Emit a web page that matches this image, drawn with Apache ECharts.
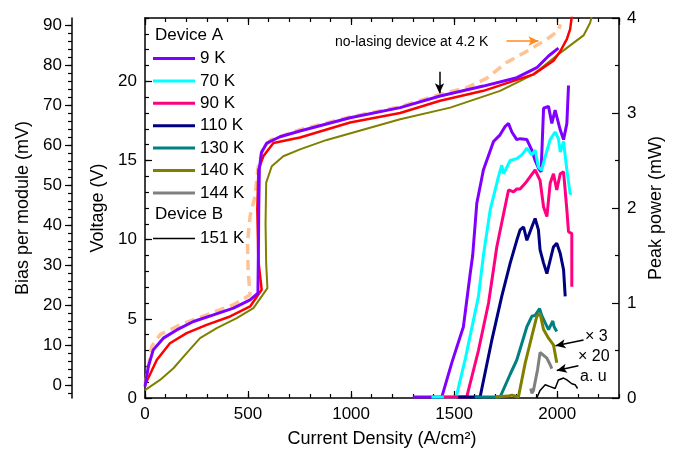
<!DOCTYPE html>
<html>
<head>
<meta charset="utf-8">
<script src="https://cdn.jsdelivr.net/npm/echarts@6/dist/echarts.min.js"></script>
<style>html,body{margin:0;padding:0;background:#fff}#c{width:678px;height:451px}</style>
</head>
<body>
<div id="c"></div>
<script>
// ---- Data (J in A/cm^2, V in volts, P in mW) ----
const biasTicks = [0, 10, 20, 30, 40, 50, 60, 70, 80, 90];
const biasMinorTicks = [-2,0,2,4,6,8,10,12,14,16,18,20,22,24,26,28,30,32,34,36,38,40,42,44,46,48,50,52,54,56,58,60,62,64,66,68,70,72,74,76,78,80,82,84,86,88,90];

const vj9K = [[0,0.72],[16,1.98],[40,3.04],[89,3.78],[154,4.3],[235,4.83],[332,5.25],[429,5.68],[510,6.2],[548,6.63],[550,9],[552,12],[555,14.5],[565,15.5],[591,16.1],[655,16.5],[752,16.86],[995,17.7],[1238,18.34],[1432,19.07],[1642,19.7],[1804,20.23],[1901,20.86],[1958,21.6],[2006,22.1]];
const vjRed = [[0,0.82],[57,2.4],[121,3.46],[202,4.1],[299,4.62],[413,5.15],[510,5.78],[566,6.84],[550,8.7],[545,11.9],[550,14.4],[574,15.27],[623,16.1],[752,16.45],[995,17.4],[1238,18.0],[1432,18.77],[1642,19.4],[1885,20.44],[1982,21.3],[2015,21.9],[2047,22.66],[2063,23.3],[2075,24.5]];
const vj140K = [[0,0.5],[73,1.14],[138,1.88],[202,2.83],[267,3.78],[348,4.41],[445,5.04],[526,5.68],[594,6.94],[588,8.5],[585,11],[588,13.6],[615,14.64],[671,15.27],[752,15.7],[882,16.3],[1238,17.6],[1481,18.34],[1723,19.4],[1885,20.44],[2015,21.8],[2128,22.9],[2160,23.7],[2175,24.5]];
const vjNoLasing = [[0,0.9],[8,1.35],[32,3.25],[73,4.0],[170,4.62],[299,5.25],[429,5.89],[510,6.52],[518,6.63],[501,7.9],[497,9.8],[510,11.5],[534,12.74],[548,14.5],[570,15.7],[610,16.3],[752,16.95],[995,17.75],[1238,18.4],[1432,19.18],[1561,19.6],[1659,20.2],[1756,21.2],[1853,21.9],[1950,22.66],[2006,23.2],[2015,23.6]];

const p9K = [[1300,0.01],[1440,0.01],[1490,0.38],[1545,0.75],[1578,1.31],[1590,1.5],[1610,2.05],[1642,2.4],[1691,2.7],[1723,2.77],[1748,2.86],[1764,2.89],[1780,2.8],[1804,2.72],[1820,2.73],[1853,2.72],[1877,2.61],[1893,2.5],[1909,2.42],[1922,2.38],[1934,3.05],[1958,3.07],[1974,2.89],[1990,3.03],[2015,2.82],[2031,2.72],[2047,2.89],[2055,3.29]];
const p70K = [[1390,0.01],[1510,0.01],[1555,0.42],[1618,1.07],[1642,1.5],[1675,1.98],[1715,2.33],[1731,2.45],[1740,2.36],[1772,2.5],[1804,2.52],[1829,2.56],[1853,2.63],[1877,2.56],[1893,2.61],[1909,2.43],[1925,2.4],[1942,2.54],[1966,2.72],[1990,2.8],[2006,2.73],[2015,2.59],[2031,2.7],[2047,2.4],[2063,2.15],[2071,2.15]];
const p90K = [[1450,0.01],[1561,0.01],[1618,0.5],[1667,1.0],[1707,1.59],[1740,1.94],[1764,2.19],[1788,2.17],[1804,2.2],[1820,2.2],[1845,2.26],[1869,2.33],[1893,2.4],[1917,2.29],[1934,2.01],[1950,1.91],[1966,2.26],[1982,2.36],[1998,2.19],[2015,2.36],[2031,2.38],[2047,1.98],[2055,1.75],[2071,1.73],[2071,1.17]];
const p110K = [[1520,0.01],[1626,0.01],[1683,0.61],[1731,1.07],[1772,1.42],[1804,1.66],[1820,1.77],[1837,1.8],[1853,1.66],[1877,1.8],[1893,1.89],[1909,1.77],[1917,1.56],[1934,1.42],[1950,1.31],[1966,1.45],[1982,1.59],[1998,1.63],[2015,1.52],[2031,1.35],[2039,1.07]];
const p130K = [[1600,0.01],[1723,0.01],[1772,0.25],[1804,0.4],[1853,0.75],[1877,0.86],[1893,0.87],[1915,0.94],[1925,0.87],[1942,0.79],[1958,0.72],[1979,0.81],[1985,0.75],[1998,0.7]];
const p140K = [[1700,0.01],[1760,0.02],[1780,0.03],[1812,0.01],[1845,0.37],[1877,0.65],[1901,0.86],[1917,0.89],[1934,0.72],[1958,0.63],[1982,0.56],[1998,0.37]];
const p144K = [[1872,0.1],[1877,0.05],[1885,0.08],[1905,0.3],[1917,0.48],[1925,0.5],[1950,0.42],[1966,0.35],[1974,0.31]];
const p151K = [[1901,0],[1917,0.08],[1942,0.14],[1966,0.12],[1990,0.1],[2006,0.19],[2031,0.21],[2047,0.19],[2071,0.15],[2087,0.14],[2099,0.1]];

const FONT = 'Liberation Sans, Arial, sans-serif';
const chart = echarts.init(document.getElementById('c'), null, {renderer: 'canvas'});

function line(name, data, color, width, yIdx, extra) {
  return Object.assign({
    type: 'line', name: name, data: data, xAxisIndex: 0, yAxisIndex: yIdx,
    symbol: 'none', showSymbol: false, smooth: false, clip: true, silent: true,
    lineStyle: {color: color, width: width}, itemStyle: {color: color}, z: 3
  }, extra || {});
}
function arrowML(from, to, color) {
  return {
    silent: true, symbol: ['none', 'arrow'], symbolSize: [7, 10],
    label: {show: false}, lineStyle: {color: color, width: 1.5, type: 'solid'},
    data: [[{coord: from}, {coord: to}]]
  };
}
const plain = function (v) { return String(v); };
const axisBlack = {lineStyle: {color: '#000', width: 1.5}};
const lbl = {color: '#000', fontFamily: FONT, fontSize: 17, formatter: plain};
const legText = {color: '#000', fontFamily: FONT, fontSize: 17};

const option = {
  animation: false,
  backgroundColor: '#fff',
  grid: {left: 145, right: 59, top: 18, bottom: 53, containLabel: false, outerBoundsMode: 'none'},
  legend: [
    {data: ['9 K','70 K','90 K','110 K','130 K','140 K','144 K'], orient: 'vertical', left: 153, top: 50,
     icon: 'rect', itemWidth: 42, itemHeight: 3, itemGap: 5.4, padding: 0, selectedMode: false,
     textStyle: legText},
    {data: ['151 K'], orient: 'vertical', left: 153, top: 230,
     icon: 'rect', itemWidth: 42, itemHeight: 1.5, padding: 0, selectedMode: false,
     textStyle: legText}
  ],
  xAxis: [
    {type: 'value', position: 'bottom', min: 0, max: 2300, interval: 500,
     axisLine: Object.assign({onZero: false}, axisBlack),
     axisTick: {inside: true, length: 7, lineStyle: {color: '#000', width: 1.2}},
     axisLabel: Object.assign({margin: 8, showMaxLabel: false}, lbl),
     splitLine: {show: false},
     name: 'Current Density (A/cm²)', nameLocation: 'middle', nameGap: 32,
     nameTextStyle: {color: '#000', fontFamily: FONT, fontSize: 18}},
    {type: 'value', position: 'bottom', min: 0, max: 2300, interval: 100,
     axisLine: {show: false, onZero: false},
     axisTick: {inside: true, length: 4, lineStyle: {color: '#000', width: 1.2}},
     axisLabel: {show: false}, splitLine: {show: false}},
    {type: 'value', position: 'top', min: 0, max: 2300, interval: 500,
     axisLine: Object.assign({onZero: false}, axisBlack),
     axisTick: {inside: true, length: 7, lineStyle: {color: '#000', width: 1.2}},
     axisLabel: {show: false}, splitLine: {show: false}},
    {type: 'value', position: 'top', min: 0, max: 2300, interval: 100,
     axisLine: {show: false, onZero: false},
     axisTick: {inside: true, length: 4, lineStyle: {color: '#000', width: 1.2}},
     axisLabel: {show: false}, splitLine: {show: false}}
  ],
  yAxis: [
    {type: 'value', position: 'left', min: 0, max: 24, interval: 5,
     axisLine: Object.assign({show: true, onZero: false}, axisBlack),
     axisTick: {show: true, inside: true, length: 7, lineStyle: {color: '#000', width: 1.2}},
     axisLabel: Object.assign({margin: 8, showMaxLabel: false}, lbl),
     splitLine: {show: false},
     name: 'Voltage (V)', nameLocation: 'middle', nameGap: 33, nameRotate: 90,
     nameTextStyle: {color: '#000', fontFamily: FONT, fontSize: 18}},
    {type: 'value', position: 'left', min: 0, max: 24, interval: 1,
     axisLine: {show: false, onZero: false},
     axisTick: {show: true, inside: true, length: 4, lineStyle: {color: '#000', width: 1.2}},
     axisLabel: {show: false}, splitLine: {show: false}},
    {type: 'value', position: 'right', min: 0, max: 4, interval: 1,
     axisLine: Object.assign({show: true, onZero: false}, axisBlack),
     axisTick: {show: true, inside: true, length: 7, lineStyle: {color: '#000', width: 1.2}},
     minorTick: {show: true, splitNumber: 2, length: 4, lineStyle: {color: '#000', width: 1.2}},
     axisLabel: Object.assign({margin: 8}, lbl),
     splitLine: {show: false},
     name: 'Peak power (mW)', nameLocation: 'middle', nameGap: 28, nameRotate: 90,
     nameTextStyle: {color: '#000', fontFamily: FONT, fontSize: 18}},
    {type: 'value', position: 'left', offset: 73, min: -3.25, max: 91.75,
     axisLine: Object.assign({show: true, onZero: false}, axisBlack),
     axisTick: {show: true, inside: false, length: 7, customValues: biasTicks, lineStyle: {color: '#000', width: 1.2}},
     axisLabel: Object.assign({margin: 10, customValues: biasTicks}, lbl),
     splitLine: {show: false},
     name: 'Bias per module (mV)', nameLocation: 'middle', nameGap: 38, nameRotate: 90,
     nameTextStyle: {color: '#000', fontFamily: FONT, fontSize: 18}},
    {type: 'value', position: 'left', offset: 73, min: -3.25, max: 91.75,
     axisLine: {show: false, onZero: false},
     axisTick: {show: true, inside: false, length: 4, customValues: biasMinorTicks, lineStyle: {color: '#000', width: 1.2}},
     axisLabel: {show: false}, splitLine: {show: false}}
  ],
  graphic: [
    {type: 'text', left: 155, top: 27, style: {text: 'Device A', font: '17px ' + FONT, fill: '#000'}},
    {type: 'text', left: 155, top: 206, style: {text: 'Device B', font: '17px ' + FONT, fill: '#000'}},
    {type: 'text', left: 335, top: 35, style: {text: 'no-lasing device at 4.2 K', font: '14px ' + FONT, fill: '#000'}},
    {type: 'text', left: 585, top: 329, style: {text: '× 3', font: '16px ' + FONT, fill: '#000'}},
    {type: 'text', left: 578, top: 349, style: {text: '× 20', font: '16px ' + FONT, fill: '#000'}},
    {type: 'text', left: 580, top: 369, style: {text: 'a. u', font: '16px ' + FONT, fill: '#000'}}
  ],
  series: [
    line('no-lasing 4.2 K', vjNoLasing, 'rgba(255,180,120,0.8)', 3.5, 0,
      {lineStyle: {color: 'rgba(255,180,120,0.8)', width: 3.5, type: [10, 6]}, z: 2,
       markLine: arrowML([1754, 22.55], [1909, 22.55], '#ff8a1c')}),
    line('140 K V', vj140K, '#808000', 2, 0),
    line('90 K V', vjRed, '#ff0000', 2.5, 0),
    line('9 K V', vj9K, '#8000ff', 3, 0,
      {markLine: arrowML([1429, 20.6], [1429, 19.25], '#000')}),
    line('9 K', p9K, '#8000ff', 3, 2),
    line('70 K', p70K, '#00ffff', 3, 2),
    line('90 K', p90K, '#ff0080', 3, 2),
    line('110 K', p110K, '#000080', 3, 2),
    line('130 K', p130K, '#008080', 3, 2),
    line('140 K', p140K, '#808000', 3, 2,
      {markLine: arrowML([2128, 0.61], [1992, 0.55], '#000')}),
    line('144 K', p144K, '#808080', 3, 2,
      {markLine: arrowML([2103, 0.34], [1998, 0.29], '#000')}),
    line('151 K', p151K, '#000000', 1.5, 2)
  ]
};
chart.setOption(option);
</script>
</body>
</html>
